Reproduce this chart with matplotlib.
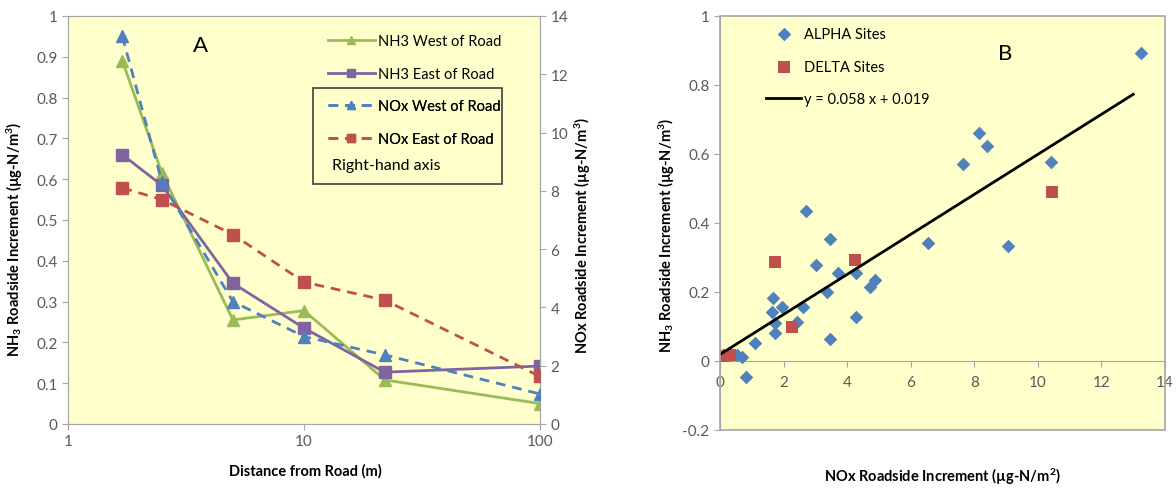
import matplotlib
matplotlib.use("Agg")
import matplotlib.pyplot as plt
from matplotlib.patches import Rectangle

plt.rcParams['font.family'] = ['Lato', 'DejaVu Sans']
plt.rcParams['mathtext.fontset'] = 'custom'
plt.rcParams['mathtext.rm'] = 'Lato'
plt.rcParams['mathtext.bf'] = 'Lato:bold'
plt.rcParams['mathtext.it'] = 'Lato:italic'

# ---------------- data: panel A ----------------
distance = [1.7, 2.5, 5.0, 10.0, 22.0, 100.0]
nh3_west = [0.89, 0.615, 0.255, 0.278, 0.108, 0.05]
nh3_east = [0.66, 0.585, 0.345, 0.235, 0.127, 0.142]
nox_west = [13.3, 8.3, 4.2, 3.0, 2.37, 1.03]
nox_east = [8.1, 7.7, 6.5, 4.87, 4.25, 1.63]

# ---------------- data: panel B ----------------
alpha_x = [13.24, 8.14, 8.39, 7.64, 10.41, 6.54, 9.06, 2.70, 3.46, 3.02, 3.71,
           4.28, 4.72, 4.87, 3.36, 4.28, 3.46, 1.67, 1.95, 1.64, 2.61, 1.73,
           1.73, 2.42, 1.10, 0.69, 0.82, 0.10, 0.30, 0.52]
alpha_y = [0.893, 0.661, 0.623, 0.571, 0.577, 0.342, 0.333, 0.435, 0.353, 0.278,
           0.255, 0.255, 0.215, 0.235, 0.200, 0.128, 0.064, 0.183, 0.157, 0.142,
           0.157, 0.110, 0.081, 0.113, 0.052, 0.012, -0.046, 0.017, 0.017, 0.017]
delta_x = [1.73, 4.24, 2.26, 0.10, 0.31, 10.44]
delta_y = [0.287, 0.293, 0.099, 0.015, 0.018, 0.490]
fit_slope = 0.058
fit_intercept = 0.019
fit_range = [0.0, 13.0]

W, H = 1176, 489
fig = plt.figure(figsize=(W / 100, H / 100), dpi=100)

def fbox(l, t, r, b):
    return [l / W, 1 - b / H, (r - l) / W, (b - t) / H]

def fx(px):
    return px / W

def fy(py):
    return 1 - py / H

bg = '#FFFFCC'
grey = '#A6A6A6'
tickc = '#595959'
green, purple, blue, red = '#9BBB59', '#8064A2', '#4F81BD', '#C0504D'
tfs = 11
lfs = 10.5
afs = 10.5

# ---------------- panel A ----------------
axA = fig.add_axes(fbox(68, 17, 540, 425))
axA.set_facecolor(bg)
axA.set_xscale('log')
axA.set_xlim(1, 100)
axA.set_ylim(0, 1)
axA.set_yticks([i / 10 for i in range(11)])
axA.set_yticklabels(['0'] + ['%.1f' % (i / 10) for i in range(1, 10)] + ['1'])
axA.set_xticks([1, 10, 100])
axA.set_xticklabels(['1', '10', '100'])
axA.xaxis.set_minor_locator(matplotlib.ticker.NullLocator())
for s in axA.spines.values():
    s.set_color(grey)
axA.tick_params(colors=grey, labelcolor=tickc, labelsize=tfs, length=4, width=0.8)

l1, = axA.plot(distance, nh3_west, color=green, lw=2, marker='^', ms=8,
               label='NH3 West of Road', zorder=3)
l2, = axA.plot(distance, nh3_east, color=purple, lw=2, marker='s', ms=8,
               label='NH3 East of Road', zorder=3)

axA2 = axA.twinx()
axA2.set_ylim(0, 14)
axA2.set_yticks(range(0, 15, 2))
for s in axA2.spines.values():
    s.set_color(grey)
axA2.tick_params(colors=grey, labelcolor=tickc, labelsize=tfs, length=4, width=0.8)
l3, = axA2.plot(distance, nox_west, color=blue, lw=2, ls=(0, (3.5, 2.5)), marker='^',
                ms=8, label='NOx West of Road', zorder=3)
l4, = axA2.plot(distance, nox_east, color=red, lw=2, ls=(0, (3.5, 2.5)), marker='s',
                ms=8, label='NOx East of Road', zorder=3)

fig.text(fx(305), fy(471), 'Distance from Road (m)', fontsize=afs, fontweight='bold',
         ha='center', va='center')
fig.text(fx(15), fy(239), r'NH$_\mathbf{3}$ Roadside Increment (µg-N/m$^\mathbf{3}$)',
         fontsize=afs, fontweight='bold', rotation=90, ha='center', va='center')
fig.text(fx(583), fy(236), r'NOx Roadside Increment (µg-N/m$^\mathbf{3}$)',
         fontsize=afs, fontweight='bold', rotation=90, ha='center', va='center')
axA.text(0.28, 0.93, 'A', transform=axA.transAxes, fontsize=16, ha='center', va='center')

legkw = dict(frameon=False, fontsize=lfs, handlelength=3.2, handletextpad=0.2,
             labelspacing=1.28, borderpad=0, borderaxespad=0,
             bbox_transform=fig.transFigure, loc='upper left')
legA1 = axA2.legend([l1, l2], [l1.get_label(), l2.get_label()],
                    bbox_to_anchor=(fx(328), fy(35)), **legkw)
for h in legA1.legend_handles:
    h.set_markersize(6)
axA2.add_artist(legA1)
legA2 = axA2.legend([l3, l4], [l3.get_label(), l4.get_label()],
                    bbox_to_anchor=(fx(328), fy(100)), **legkw)
for h in legA2.legend_handles:
    h.set_markersize(6)
axA2.add_artist(legA2)
fig.text(fx(332), fy(166), 'Right-hand axis', fontsize=11.5, va='center', ha='left')
fig.add_artist(Rectangle((fx(313), fy(185)), (502 - 313) / W, (185 - 89) / H,
                         transform=fig.transFigure, fill=False, ec='#404040', lw=1.2))

# ---------------- panel B ----------------
axB = fig.add_axes(fbox(720, 17, 1165, 431))
axB.set_facecolor(bg)
axB.set_xlim(0, 14)
axB.set_ylim(-0.2, 1)
axB.set_xticks(range(0, 15, 2))
axB.set_yticks([-0.2, 0, 0.2, 0.4, 0.6, 0.8, 1])
axB.set_yticklabels(['-0.2', '0', '0.2', '0.4', '0.6', '0.8', '1'])
axB.spines['bottom'].set_position(('data', 0))
for s in axB.spines.values():
    s.set_color(grey)
axB.spines['top'].set_visible(False)
axB.spines['right'].set_visible(False)
axB.add_patch(Rectangle((0, 0), 1, 1, transform=axB.transAxes, fill=False,
                        ec=grey, lw=1.2, clip_on=False, zorder=5))
axB.tick_params(colors=grey, labelcolor=tickc, labelsize=tfs, length=4, width=0.8)
axB.tick_params(axis='x', pad=6)

sa = axB.scatter(alpha_x, alpha_y, marker='D', s=48, color=blue, label='ALPHA Sites',
                 zorder=3, lw=0)
sd = axB.scatter(delta_x, delta_y, marker='s', s=80, color=red, label='DELTA Sites',
                 zorder=3, lw=0)
fitx = fit_range
fity = [fit_slope * v + fit_intercept for v in fitx]
lf, = axB.plot(fitx, fity, color='black', lw=2, zorder=4,
               label='y = %.3f x + %.3f' % (fit_slope, fit_intercept))

axB.text(0.64, 0.91, 'B', transform=axB.transAxes, fontsize=16, ha='center', va='center')
fig.text(fx(667), fy(235), r'NH$_\mathbf{3}$ Roadside Increment (µg-N/m$^\mathbf{3}$)',
         fontsize=afs, fontweight='bold', rotation=90, ha='center', va='center')
fig.text(fx(942), fy(477), r'NOx Roadside Increment (µg-N/m$^\mathbf{2}$)',
         fontsize=afs, fontweight='bold', ha='center', va='center')

legB = axB.legend([sa, sd, lf], [sa.get_label(), sd.get_label(), lf.get_label()],
                  frameon=False, fontsize=lfs, handlelength=2.4, handletextpad=0.2,
                  labelspacing=1.28, borderpad=0, borderaxespad=0, scatterpoints=1,
                  loc='upper left', bbox_to_anchor=(fx(766), fy(28)),
                  bbox_transform=fig.transFigure)

fig.savefig('out.png', dpi=100)
